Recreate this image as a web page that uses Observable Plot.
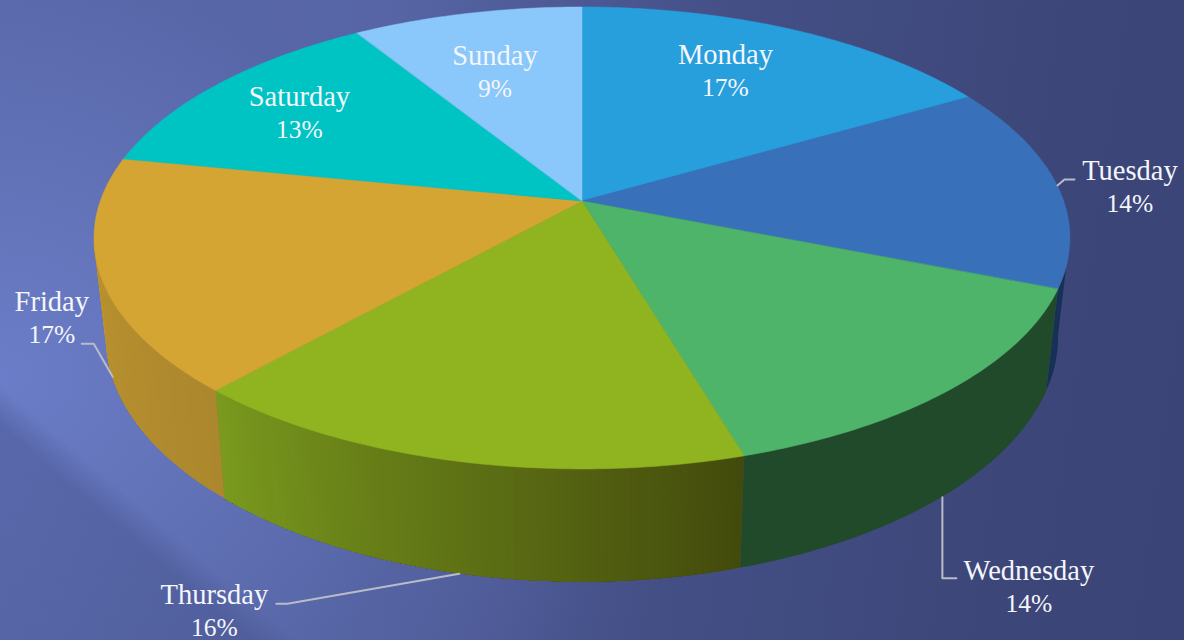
<!DOCTYPE html>
<html>
<head>
<meta charset="utf-8">
<script src="https://cdn.jsdelivr.net/npm/d3@7"></script>
<script src="https://cdn.jsdelivr.net/npm/@observablehq/plot@0.6"></script>
<style>
html,body{margin:0;padding:0;width:1184px;height:640px;overflow:hidden}
#bg{position:absolute;left:0;top:0;width:1184px;height:640px;background:
 linear-gradient(220.5deg, rgba(66,78,135,0) 84.6%, rgba(66,78,135,.42) 87%, rgba(66,78,135,.30) 100%),
 radial-gradient(ellipse 640px 580px at 0px 375px, rgba(107,125,200,1) 0%, rgba(98,115,184,.9) 35%, rgba(86,101,165,.6) 70%, rgba(60,71,120,0) 100%),
 linear-gradient(98deg, #5d6cb0 0%, #5765a6 30%, #444f86 58%, #3c4678 85%, #3b4476 100%);}
#chart{position:absolute;left:0;top:0}
svg{background:transparent!important;display:block}
</style>
</head>
<body>
<div id="bg"></div>
<div id="chart"></div>
<script>
const days = ["Monday","Tuesday","Wednesday","Thursday","Friday","Saturday","Sunday"];
const shares = [16.7,14.3,14.4,16.3,16.4,13.0,8.9];
const percentLabels = ["17%","14%","14%","16%","17%","13%","9%"];
const topColors = ["#279fdd","#3871b9","#4db469","#90b420","#d5a533","#00c4c4","#8ac7fa"];
const sideColorsStart = ["#1a5f88","#173055","#204a2a","#434a0c","#ac872d","#007a7a","#5580a0"];
const sideColorsEnd = ["#1a5f88","#173055","#204a2a","#7a9a1e","#bb9330","#007a7a","#5580a0"];

// perspective model of the tilted disc (top and bottom rims)
const cx = 582, persp = 0.16;
const topRim = {A: 481.7, a: -192.9, b: 201};
const botRim = {A: 470, a: -191.5, b: 297};
function project(rim, pct, r = 1) {
  const th = pct / 100 * 2 * Math.PI, s = Math.sin(th), t = Math.cos(th);
  const d = 1 + persp * r * t;
  return [cx + rim.A * r * s / d, (rim.a * r * t + rim.b) / d];
}

let acc = 0;
const slices = days.map((day, i) => {
  const start = acc; acc += shares[i];
  return {day, i, start, end: acc, mid: (start + acc) / 2};
});

// the wall is only visible between the disc's two silhouette tangents
const wallFrom = 27.4, wallTo = 72.6;
const fanRows = [], stripRows = [];
let stripId = 0;
for (const sl of slices) {
  const n = Math.ceil((sl.end - sl.start) / 0.2);
  const col = d3.interpolateRgb(sideColorsStart[sl.i], sideColorsEnd[sl.i]);
  for (let k = 0; k <= n; k++) {
    const p = sl.start + (sl.end - sl.start) * k / n;
    const [x, y] = project(topRim, p);
    fanRows.push({day: sl.day, x1: cx, y1: topRim.b, x2: x, y2: y, color: topColors[sl.i]});
  }
  const from = Math.max(sl.start, wallFrom), to = Math.min(sl.end, wallTo);
  if (to <= from) continue;
  const bands = sideColorsStart[sl.i] === sideColorsEnd[sl.i] ? 1 : 70;
  for (let b = 0; b < bands; b++) {
    // each band runs on to the slice's end and the next band paints over it: no seams
    const p0 = from + (to - from) * b / bands;
    const color = col((b + 0.5) / bands);
    const steps = 40;
    for (let k = 0; k <= steps; k++) {
      const v = p0 + (to - p0) * k / steps;
      const [tx, ty] = project(topRim, v), [bx, by] = project(botRim, v);
      stripRows.push({strip: stripId, x1: tx, y1: ty, x2: bx, y2: by, color});
    }
    stripId++;
  }
}

// label placement relative to the slice's mid-angle anchor
const labelRim = ["inner","top","bottom","bottom","bottom","inner","inner"];
const labelDx = [-11, 72.5, 86.5, -245, -61, -22, -3.5];
const labelDy = [-6, 2, 90, 37.5, -58, -4, 8];
const lineGap = 16.5;
const elbowOffsets = {Tuesday: [[7,-6],[17,-6]], Wednesday: [[0,81],[14,81]], Thursday: [[-172,30],[-183,30]], Friday: [[-19,-33],[-31,-33]]};

function anchorOf(sl) {
  const kind = labelRim[sl.i];
  if (kind === "inner") return project(topRim, sl.mid, 0.7);
  return project(kind === "top" ? topRim : botRim, sl.mid);
}
const labelRows = slices.map(sl => {
  const [ax, ay] = anchorOf(sl);
  return {x: ax + labelDx[sl.i], y: ay + labelDy[sl.i], day: sl.day, pct: percentLabels[sl.i]};
});
const leaderRows = slices.filter(sl => elbowOffsets[sl.day]).flatMap(sl => {
  const [ax, ay] = anchorOf(sl);
  return [[0,0], ...elbowOffsets[sl.day]].map(([dx, dy]) => ({day: sl.day, x: ax + dx, y: ay + dy}));
});

const chart = Plot.plot({
  width: 1184, height: 640,
  margin: 0,
  x: {domain: [0, 1184], range: [0, 1184], axis: null},
  y: {domain: [0, 640], range: [0, 640], axis: null},
  color: {type: "identity"},
  style: {background: "transparent"},
  marks: [
    Plot.area(stripRows, {x1: "x1", y1: "y1", x2: "x2", y2: "y2", z: "strip", fill: "color"}),
    Plot.area(fanRows, {x1: "x1", y1: "y1", x2: "x2", y2: "y2", z: "day", fill: "color", stroke: "color", strokeWidth: 0.5}),
    Plot.line(leaderRows, {x: "x", y: "y", z: "day", stroke: "#b9bcc8", strokeWidth: 2, curve: "linear"}),
    Plot.text(labelRows, {x: "x", y: d => d.y - lineGap, text: "day", fill: "#f4f6fb", fontSize: 28.5, fontFamily: "Liberation Serif", textAnchor: "middle", lineAnchor: "middle", style: {letterSpacing: "1.5px"}}),
    Plot.text(labelRows, {x: "x", y: d => d.y + lineGap, text: "pct", fill: "#f4f6fb", fontSize: 25.5, fontFamily: "Liberation Serif", textAnchor: "middle", lineAnchor: "middle"})
  ]
});
document.getElementById("chart").appendChild(chart);
</script>
</body>
</html>
